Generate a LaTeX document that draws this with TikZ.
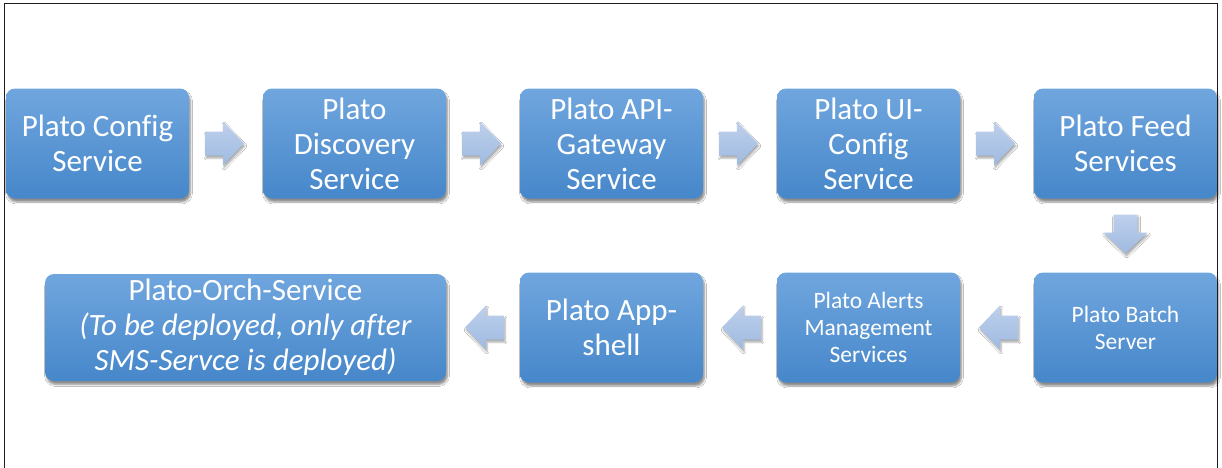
\documentclass[tikz,border=0pt]{standalone}
\usepackage{fontspec}
\setmainfont[Ligatures=NoCommon]{Carlito}
\usetikzlibrary{shadows.blur,calc}
\definecolor{boxtop}{RGB}{112,166,222}
\definecolor{boxmid}{RGB}{88,152,214}
\definecolor{boxbot}{RGB}{70,135,202}
\definecolor{arrtop}{RGB}{190,208,236}
\definecolor{arrbot}{RGB}{158,186,224}
\definecolor{frame}{RGB}{30,30,30}
\tikzset{
  svc/.style={rectangle, rounded corners=9pt, top color=boxtop, middle color=boxmid, bottom color=boxbot,
    text=white, align=center, inner sep=0pt, minimum width=183pt, minimum height=110pt,
    blur shadow={shadow xshift=1.5pt, shadow yshift=-3.5pt, shadow blur steps=6, shadow opacity=45},
    font=\fontsize{31}{35}\selectfont},
  smalltext/.style={font=\fontsize{23.5}{27}\selectfont},
  arrowfill/.style={top color=arrtop, bottom color=arrbot,
      blur shadow={shadow xshift=1pt, shadow yshift=-2.5pt, shadow blur steps=5, shadow opacity=35}},
  blockarrow/.pic={
    \path[arrowfill]
      (-19.5,-12) -- (-1.5,-12) -- (-1.5,-22) -- (19.5,0) -- (-1.5,22) -- (-1.5,12) -- (-19.5,12) -- cycle;
  },
  downarrow/.pic={
    \path[arrowfill]
      (-12,-19.5) -- (-12,-1.5) -- (-22,-1.5) -- (0,19.5) -- (22,-1.5) -- (12,-1.5) -- (12,-19.5) -- cycle;
  }
}
\begin{document}
\begin{tikzpicture}[x=1pt,y=-1pt]
\useasboundingbox (0,0) rectangle (1222,467);
\fill[white] (0,0) rectangle (1222,467);
% top row
\node[svc] (cfg)  at (97.5,143.5)  {Plato Config\\Service};
\node[svc] (disc) at (354.5,143.5) {Plato\\Discovery\\Service};
\node[svc] (api)  at (611.5,143.5) {Plato API-\\Gateway\\Service};
\node[svc] (ui)   at (868.5,143.5) {Plato UI-\\Config\\Service};
\node[svc] (feed) at (1125.5,143.5) {Plato Feed\\Services};
% bottom row
\node[svc, smalltext] (batch)  at (1125.5,327.5) {Plato Batch\\Server};
\node[svc, smalltext] (alerts) at (868.5,327.5) {Plato Alerts\\Management\\Services};
\node[svc] (shell) at (611.5,327.5) {Plato App-\\shell};
\node[svc, minimum width=401pt, minimum height=107pt] (orch) at (245.5,327.5)
  {Plato-Orch-Service\\\textit{(To be deployed, only after}\\\textit{SMS-Servce is deployed)}};
% arrows
\path ($(cfg.east)!0.5!(disc.west)+(-1.5,0)$) pic {blockarrow};
\path ($(disc.east)!0.5!(api.west)+(-1.5,0)$) pic {blockarrow};
\path ($(api.east)!0.5!(ui.west)+(-1.5,0)$) pic {blockarrow};
\path ($(ui.east)!0.5!(feed.west)+(-1.5,0)$) pic {blockarrow};
\path ($(feed.south)!0.5!(batch.north)+(0,-1.5)$) pic {downarrow};
\path ($(batch.west)!0.5!(alerts.east)+(1.5,0)$) pic[xscale=-1] {blockarrow};
\path ($(alerts.west)!0.5!(shell.east)+(1.5,0)$) pic[xscale=-1] {blockarrow};
\path ($(shell.west)!0.5!(orch.east)+(1.5,0)$) pic[xscale=-1] {blockarrow};
% frame
\draw[frame, line width=1.5pt] (4.5,480) -- (4.5,3.5) -- (1217.5,3.5) -- (1217.5,480);
\end{tikzpicture}
\end{document}
